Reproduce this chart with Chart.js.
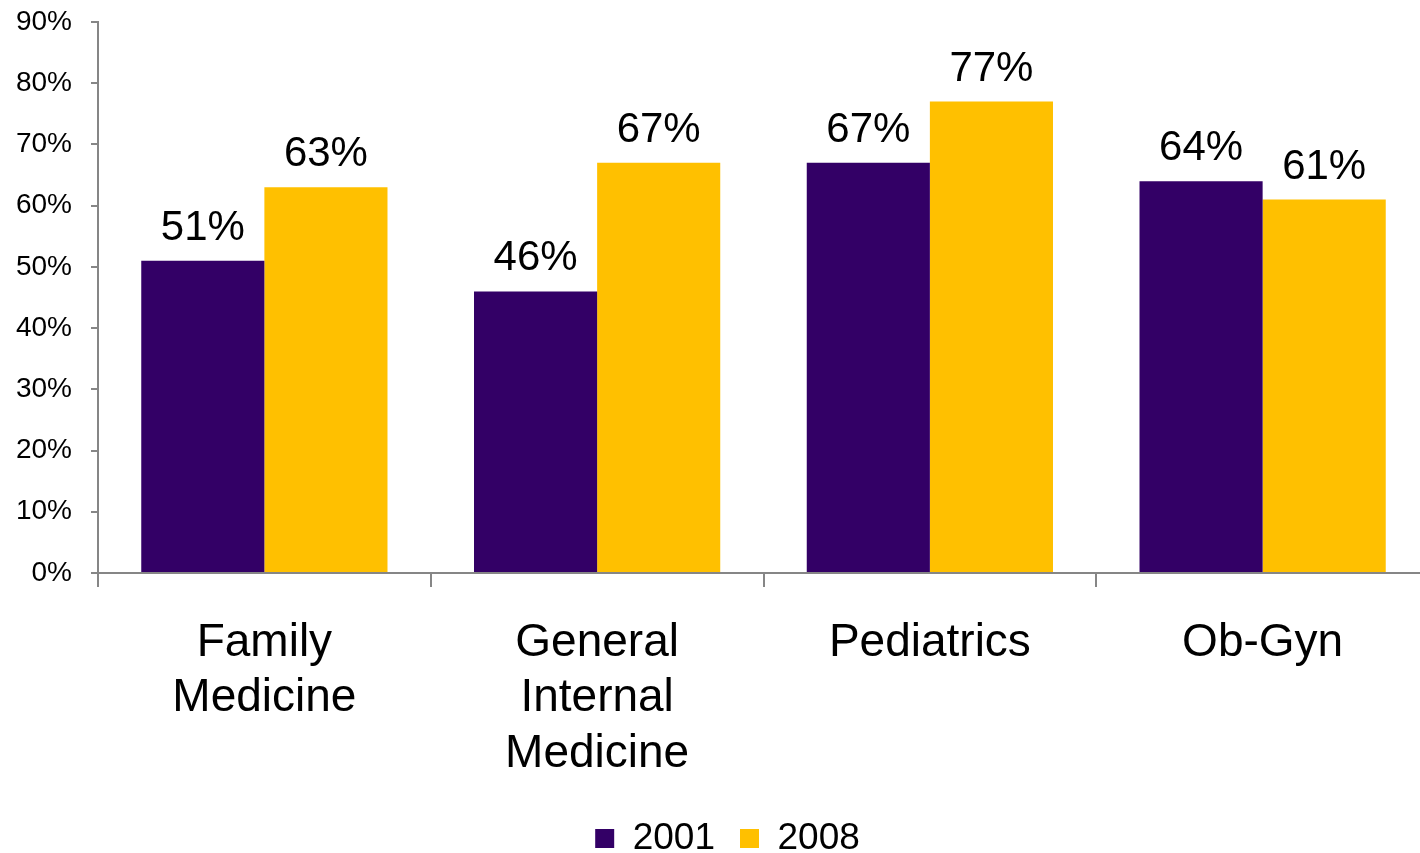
<!DOCTYPE html>
<html>
<head>
<meta charset="utf-8">
<script src="https://cdn.jsdelivr.net/npm/chart.js@4"></script>
<style>
    html, body { margin: 0; padding: 0; background: #fff; overflow: hidden; }
    #wrap { width: 1429px; height: 853px; }
</style>
</head>
<body>
<div id="wrap"><canvas id="specialtyChart"></canvas></div>
<script>
// Specialty groups and the share for each survey year
const categories = [['Family', 'Medicine'], ['General', 'Internal', 'Medicine'], 'Pediatrics', 'Ob-Gyn'];
const values2001 = [51, 46, 67, 64];
const values2008 = [63, 67, 77, 61];
const yTicks = [0, 10, 20, 30, 40, 50, 60, 70, 80, 90];

const axisGray = '#868686';
const fontFamily = "'Liberation Sans', Arial, sans-serif";

// Writes the percentage above each bar
const valueLabels = {
    id: 'valueLabels',
    afterDatasetsDraw(chart) {
        const ctx = chart.ctx;
        ctx.save();
        ctx.font = '42px ' + fontFamily;
        ctx.fillStyle = '#000';
        ctx.textAlign = 'center';
        ctx.textBaseline = 'alphabetic';
        chart.data.datasets.forEach((ds, i) => {
            chart.getDatasetMeta(i).data.forEach((bar, j) => {
                ctx.fillText(ds.data[j] + '%', bar.x, bar.y - 21);
            });
        });
        ctx.restore();
    }
};

const ctx = document.getElementById('specialtyChart').getContext('2d');
new Chart(ctx, {
    type: 'bar',
    data: {
        labels: categories,
        datasets: [{
            label: '2001',
            data: values2001,
            backgroundColor: '#330066'
        }, {
            label: '2008',
            data: values2008,
            backgroundColor: '#FFC000'
        }]
    },
    options: {
        responsive: true,
        maintainAspectRatio: false,
        animation: false,
        categoryPercentage: 0.74,
        barPercentage: 1.0,
        layout: {
            // shifted slightly so the legend sits right of centre
            padding: { top: 22, right: -13, bottom: -14, left: 13 }
        },
        scales: {
            x: {
                grid: {
                    display: true,
                    offset: true,
                    drawOnChartArea: false,
                    tickLength: 14,
                    color: axisGray,
                    lineWidth: 2
                },
                border: { color: axisGray, width: 2 },
                ticks: {
                    color: '#000',
                    padding: 29,
                    font: { family: fontFamily, size: 46, lineHeight: 1.2 }
                },
                afterFit(scale) { scale.height = 222; }
            },
            y: {
                min: 0,
                max: 90,
                grid: {
                    drawOnChartArea: false,
                    tickLength: 7,
                    color: axisGray,
                    lineWidth: 2
                },
                border: { color: axisGray, width: 2 },
                afterBuildTicks(scale) {
                    scale.ticks = yTicks.map(v => ({ value: v }));
                },
                ticks: {
                    color: '#000',
                    padding: 19,
                    font: { family: fontFamily, size: 28 },
                    callback: v => v + '%'
                },
                afterFit(scale) {
                    scale.width = 85;
                    scale.paddingTop = 0;
                    scale.paddingBottom = 0;
                }
            }
        },
        plugins: {
            legend: {
                position: 'bottom',
                labels: {
                    boxWidth: 19,
                    boxHeight: 19,
                    padding: 25,
                    color: '#000',
                    font: { family: fontFamily, size: 37 }
                }
            },
            tooltip: { enabled: false }
        }
    },
    plugins: [valueLabels]
});
</script>
</body>
</html>
